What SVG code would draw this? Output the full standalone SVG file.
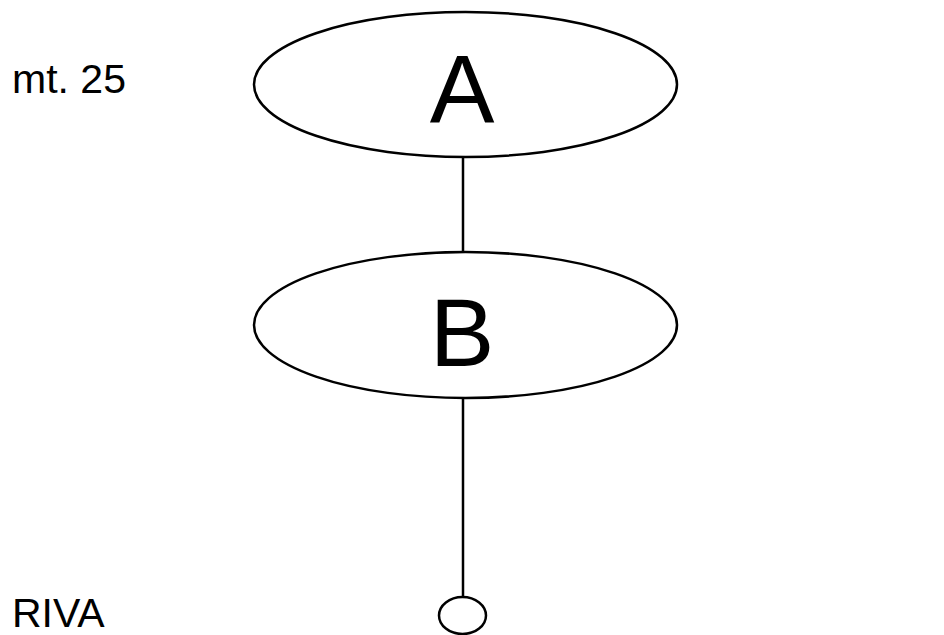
<svg xmlns="http://www.w3.org/2000/svg" width="944" height="635" viewBox="0 0 944 635">
<style>
.node{fill:#fff;stroke:#000;stroke-width:2.5}
.edge{stroke:#000;stroke-width:2.5;fill:none}
.big{font-family:"Liberation Sans",Arial,sans-serif;font-size:97px;fill:#000;text-anchor:middle}
.lbl{font-family:"Liberation Sans",Arial,sans-serif;font-size:41px;fill:#000}
</style>
<rect width="944" height="635" fill="#fff"/>
<g id="connectors">
<line class="edge" x1="463" y1="157" x2="463" y2="252"/>
<line class="edge" x1="463" y1="398" x2="463" y2="597"/>
</g>
<g id="nodeA">
<ellipse class="node" cx="465.5" cy="84.5" rx="211.5" ry="72.5"/>
<text class="big" x="462" y="122">A</text>
</g>
<g id="nodeB">
<ellipse class="node" cx="465.5" cy="325" rx="211.5" ry="73"/>
<text class="big" x="462" y="366">B</text>
</g>
<g id="terminal">
<ellipse class="node" cx="462.5" cy="615.5" rx="23.5" ry="18.5"/>
</g>
<text class="lbl" x="12" y="93">mt. 25</text>
<text class="lbl" x="12" y="627">RIVA</text>
</svg>
